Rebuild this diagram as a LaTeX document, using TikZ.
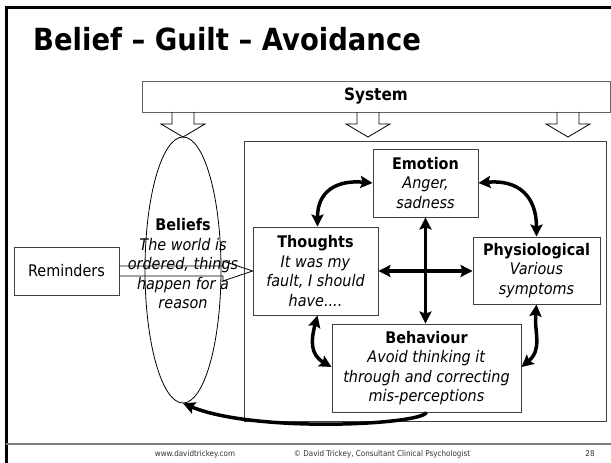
\documentclass[tikz,border=0pt]{standalone}
\usepackage{fontspec}
\setmainfont{DejaVu Sans}[FakeStretch=0.9]
\usetikzlibrary{arrows.meta,shapes.geometric}

\definecolor{boxline}{RGB}{64,64,64}
\definecolor{sysline}{RGB}{100,100,100}
\definecolor{footgray}{RGB}{128,128,128}
\definecolor{foottext}{RGB}{50,50,50}

\tikzset{
  body/.style={font=\fontsize{16}{19.5}\selectfont},
  panel/.style={body, draw=boxline, line width=0.9pt, fill=white, align=center, inner sep=0pt},
  blockarrow/.style={draw=black, line width=0.8pt, line join=miter},
  link/.style={line width=3.5pt, {Stealth[length=12pt,width=12pt,inset=2pt]}-{Stealth[length=12pt,width=12pt,inset=2pt]}},
  onelink/.style={line width=3.5pt, -{Stealth[length=12pt,width=12pt,inset=2pt]}},
  footer/.style={font=\fontsize{8}{9}\selectfont, text=foottext, inner sep=0pt},
}

\begin{document}
\begin{tikzpicture}[x=1pt, y=1pt]
\useasboundingbox (0,0) rectangle (611,463);
\fill[white] (0,0) rectangle (611,463);

% slide frame and footer rule
\draw[line width=3pt] (6,-5) -- (6,455) -- (620,455);
\draw[footgray, line width=1.8pt] (6,19) -- (620,19);

% title
\node[anchor=base west, inner sep=0pt, font=\fontsize{30.5}{36}\selectfont\bfseries] (title) at (33,412) {Belief – Guilt – Avoidance};

% system bar
\node[panel, draw=sysline, minimum width=468, minimum height=31, font=\fontsize{17}{20}\selectfont\bfseries] (sys) at (376,366.5) {System};

% block arrows from the system bar
\foreach \c in {183,368,568}
  \draw[blockarrow] ({\c-11},351) -- ({\c-11},339) -- ({\c-22},339) -- (\c,326) -- ({\c+22},339) -- ({\c+11},339) -- ({\c+11},351);

% frame round the cycle
\draw[boxline, line width=0.9pt] (244,42) rectangle (606,322);

% beliefs ellipse
\node[ellipse, draw, line width=0.8pt, minimum width=76, minimum height=266, inner sep=0pt] (bel) at (183,193) {};

% cycle boxes
\node[panel, minimum width=105, minimum height=68] (emo) at (425.5,280)
  {\textbf{Emotion}\\\textit{Anger,}\\\textit{sadness}};
\node[panel, minimum width=125, minimum height=88] (tho) at (315.5,192)
  {\textbf{Thoughts}\\\textit{It was my}\\\textit{fault, I should}\\\textit{have....}};
\node[panel, minimum width=127, minimum height=67] (phy) at (536.5,192.5)
  {\textbf{Physiological}\\\textit{Various}\\\textit{symptoms}};
\node[panel, minimum width=189, minimum height=88] (beh) at (426.5,95)
  {\textbf{Behaviour}\\\textit{Avoid thinking it}\\\textit{through and correcting}\\\textit{mis-perceptions}};
\node[panel, minimum width=105, minimum height=48] (rem) at (66.5,192) {Reminders};

% reminders block arrow into thoughts
\draw[blockarrow] ([yshift=5]rem.east) -- (223,197) -- (223,202) -- (tho.west)
  -- (223,182) -- (223,187) -- ([yshift=-5]rem.east);

% beliefs text over the ellipse
\node[body, align=center, inner sep=0pt] (beltxt) at (183,199)
  {\textbf{Beliefs}\\\textit{The world is}\\\textit{ordered, things}\\\textit{happen for a}\\\textit{reason}};

% links between the cycle boxes
\draw[link] (emo.west) to[out=175, in=90, looseness=1.3] ([xshift=2]tho.north);
\draw[link] (emo.east) to[out=5, in=90, looseness=1.3] (phy.north);
\draw[link] ([xshift=2]tho.south) to[out=-105, in=150, looseness=1.2] ([yshift=1]beh.west);
\draw[link] ([yshift=1]beh.east) to[out=40, in=-95, looseness=1.1] (phy.south);
\draw[link] (emo.south) -- (emo.south |- beh.north);
\draw[link] (tho.east) -- (tho.east -| phy.west);

% behaviour feeds back to beliefs
\draw[onelink] (beh.south) .. controls (420,38) and (255,30) .. (bel.south);

% footer
\node[footer, anchor=base] (web) at (195,6) {www.davidtrickey.com};
\node[footer, anchor=base] (copy) at (382,6) {© David Trickey, Consultant Clinical Psychologist};
\node[footer, anchor=base] (page) at (590,6) {28};
\end{tikzpicture}
\end{document}
